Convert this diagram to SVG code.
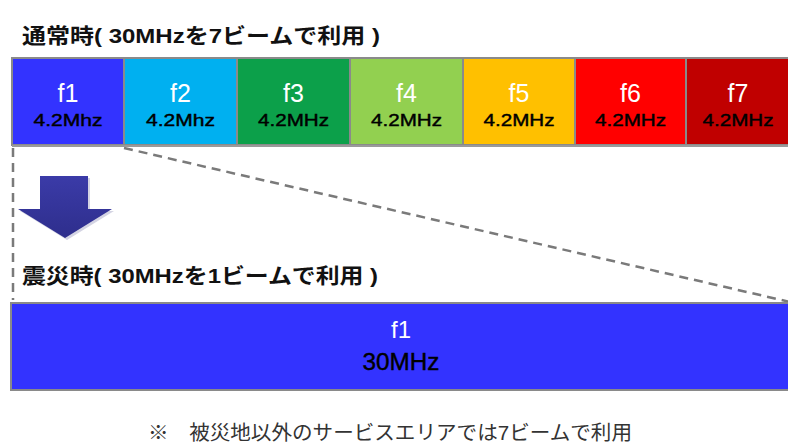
<svg xmlns="http://www.w3.org/2000/svg" width="788" height="443" viewBox="0 0 788 443">
<defs>
<style>
.t{font-family:"Liberation Sans","Noto Sans CJK JP",sans-serif;}
.title{font-size:21px;font-weight:bold;fill:#111;}
.box{stroke:#8a8a8a;stroke-width:2;}
.fn{font-size:25px;fill:#fff;text-anchor:middle;}
.bw{font-size:16px;fill:#000;stroke:#000;stroke-width:0.4;text-anchor:middle;}
.dash{stroke:#7a7a7a;stroke-width:2.5;stroke-dasharray:9 6;fill:none;}
.note{font-size:20px;fill:#333;}
</style>
<linearGradient id="ag" x1="0" y1="0" x2="0" y2="1">
<stop offset="0" stop-color="#3b3ba8"/>
<stop offset="1" stop-color="#2e2e8c"/>
</linearGradient>
</defs>
<rect width="788" height="443" fill="#fff"/>
<text class="t title" x="22" y="43" textLength="358" lengthAdjust="spacingAndGlyphs">通常時( 30MHzを7ビームで利用 )</text>
<g id="connectors">
<line class="dash" x1="13" y1="148" x2="13" y2="300"/>
<line class="dash" x1="124" y1="148" x2="790" y2="302"/>
</g>
<g id="f1"><rect class="box" x="12" y="58" width="112" height="87" fill="#3333ff"/><text class="t fn" x="68" y="102">f1</text><text class="t bw" x="68" y="126" textLength="69" lengthAdjust="spacingAndGlyphs">4.2Mhz</text></g>
<g id="f2"><rect class="box" x="124" y="58" width="113" height="87" fill="#00b0f0"/><text class="t fn" x="180.5" y="102">f2</text><text class="t bw" x="180.5" y="126" textLength="69" lengthAdjust="spacingAndGlyphs">4.2Mhz</text></g>
<g id="f3"><rect class="box" x="237" y="58" width="113" height="87" fill="#0ca04a"/><text class="t fn" x="293.5" y="102">f3</text><text class="t bw" x="293.5" y="126" textLength="71" lengthAdjust="spacingAndGlyphs">4.2MHz</text></g>
<g id="f4"><rect class="box" x="350" y="58" width="113" height="87" fill="#92d050"/><text class="t fn" x="406.5" y="102">f4</text><text class="t bw" x="406.5" y="126" textLength="71" lengthAdjust="spacingAndGlyphs">4.2MHz</text></g>
<g id="f5"><rect class="box" x="463" y="58" width="112" height="87" fill="#ffc000"/><text class="t fn" x="519" y="102">f5</text><text class="t bw" x="519" y="126" textLength="71" lengthAdjust="spacingAndGlyphs">4.2MHz</text></g>
<g id="f6"><rect class="box" x="575" y="58" width="111" height="87" fill="#ff0000"/><text class="t fn" x="630.5" y="102">f6</text><text class="t bw" x="630.5" y="126" textLength="71" lengthAdjust="spacingAndGlyphs">4.2MHz</text></g>
<g id="f7"><rect class="box" x="686" y="58" width="106" height="87" fill="#c00000"/><text class="t fn" x="738" y="102">f7</text><text class="t bw" x="738" y="126" textLength="71" lengthAdjust="spacingAndGlyphs">4.2MHz</text></g>
<line x1="12" y1="146" x2="790" y2="146" stroke="#9a9a9a" stroke-width="2"/>
<g id="arrow"><polygon points="42,178 90,178 90,211 114,211 67,240 20,211 42,211" fill="#b8b8d0" opacity="0.6"/><polygon points="40,176 88,176 88,209 112,209 65,238 18,209 40,209" fill="url(#ag)"/></g>
<text class="t title" x="22" y="283" textLength="356" lengthAdjust="spacingAndGlyphs">震災時( 30MHzを1ビームで利用 )</text>
<g id="big"><rect class="box" x="11" y="303" width="780" height="87" fill="#3333ff"/><text class="t fn" x="401" y="338" style="font-size:24px">f1</text><text class="t fn" x="401" y="370" textLength="77" lengthAdjust="spacingAndGlyphs" style="fill:#000;stroke:#000;stroke-width:0.4;font-size:23px">30MHz</text></g>
<text class="t note" x="148" y="440" textLength="484" lengthAdjust="spacingAndGlyphs">※　被災地以外のサービスエリアでは7ビームで利用</text>
</svg>
